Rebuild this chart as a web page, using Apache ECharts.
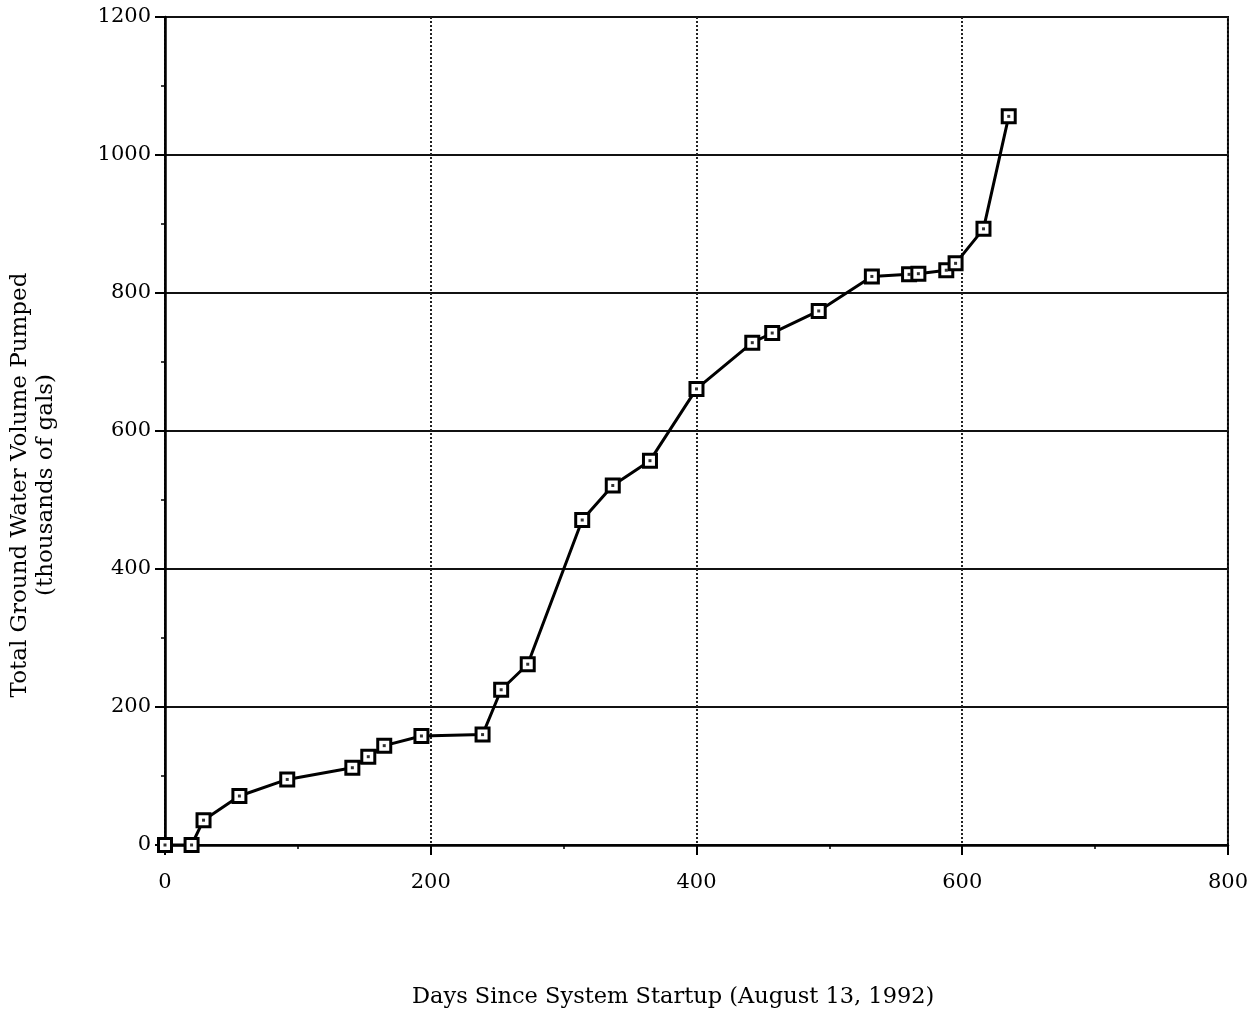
<!DOCTYPE html>
<html>
<head>
<meta charset="utf-8">
<script src="https://cdn.jsdelivr.net/npm/echarts@6/dist/echarts.min.js"></script>
<style>
  html, body { margin: 0; padding: 0; background: #fff; }
  #chart { width: 1251px; height: 1027px; }
</style>
</head>
<body>
<div id="chart"></div>
<script>
// days since startup and cumulative volume (thousands of gals)
let days = [0, 20, 29, 56, 92, 141, 153, 165, 193, 239, 253, 273, 314, 337, 365, 400, 442, 457, 492, 532, 560, 567, 588, 595, 616, 635];
let volume = [0, 0, 36, 71, 95, 112, 128, 144, 158, 160, 225, 262, 471, 521, 557, 661, 728, 742, 774, 824, 827, 828, 833, 843, 893, 1056];

let xTicks = [0, 200, 400, 600, 800];
let yTicks = [0, 200, 400, 600, 800, 1000, 1200];

let pts = days.map(function (d, i) { return [d, volume[i]]; });

let font = '"DejaVu Serif", "Liberation Serif", serif';

let option = {
  backgroundColor: '#fff',
  animation: false,
  grid: {
    left: 165, right: 23, top: 17, bottom: 182,
    show: true,
    borderColor: '#000',
    borderWidth: 2
  },
  xAxis: {
    type: 'value',
    min: xTicks[0],
    max: xTicks[xTicks.length - 1],
    interval: 200,
    axisLine: { show: true, lineStyle: { color: '#000', width: 2.5 } },
    axisTick: { show: true, length: 10, lineStyle: { color: '#000', width: 2 } },
    minorTick: { show: true, splitNumber: 2, length: 4, lineStyle: { color: '#000', width: 1.5 } },
    axisLabel: { color: '#000', fontFamily: font, fontSize: 21, margin: 27, formatter: function (v) { return String(v); } },
    splitLine: { show: true, lineStyle: { color: '#222', width: 2, type: 'dotted' } }
  },
  yAxis: {
    type: 'value',
    min: yTicks[0],
    max: yTicks[yTicks.length - 1],
    interval: 200,
    axisLine: { show: true, lineStyle: { color: '#000', width: 2.5 } },
    axisTick: { show: true, length: 10, lineStyle: { color: '#000', width: 2 } },
    minorTick: { show: true, splitNumber: 2, length: 4, lineStyle: { color: '#000', width: 1.5 } },
    axisLabel: { color: '#000', fontFamily: font, fontSize: 21, margin: 14, formatter: function (v) { return String(v); } },
    splitLine: { show: true, lineStyle: { color: '#111', width: 2 } }
  },
  graphic: [
    {
      type: 'text',
      left: 412,
      top: 986,
      style: { text: 'Days Since System Startup (August 13, 1992)', font: '22.5px ' + font, fill: '#000' }
    },
    {
      type: 'text',
      x: 7,
      y: 485,
      rotation: Math.PI / 2,
      style: {
        text: 'Total Ground Water Volume Pumped\n(thousands of gals)',
        font: '23px ' + font,
        fill: '#000',
        align: 'center',
        verticalAlign: 'top',
        lineHeight: 26
      }
    }
  ],
  series: [
    {
      type: 'line',
      data: pts,
      symbol: 'rect',
      symbolSize: 13,
      lineStyle: { color: '#000', width: 3 },
      itemStyle: { color: '#fff', borderColor: '#000', borderWidth: 3 },
      z: 3
    },
    {
      type: 'scatter',
      data: pts,
      symbol: 'rect',
      symbolSize: 3,
      itemStyle: { color: '#000' },
      z: 4
    }
  ]
};

var chart = echarts.init(document.getElementById('chart'));
chart.setOption(option);
</script>
</body>
</html>
